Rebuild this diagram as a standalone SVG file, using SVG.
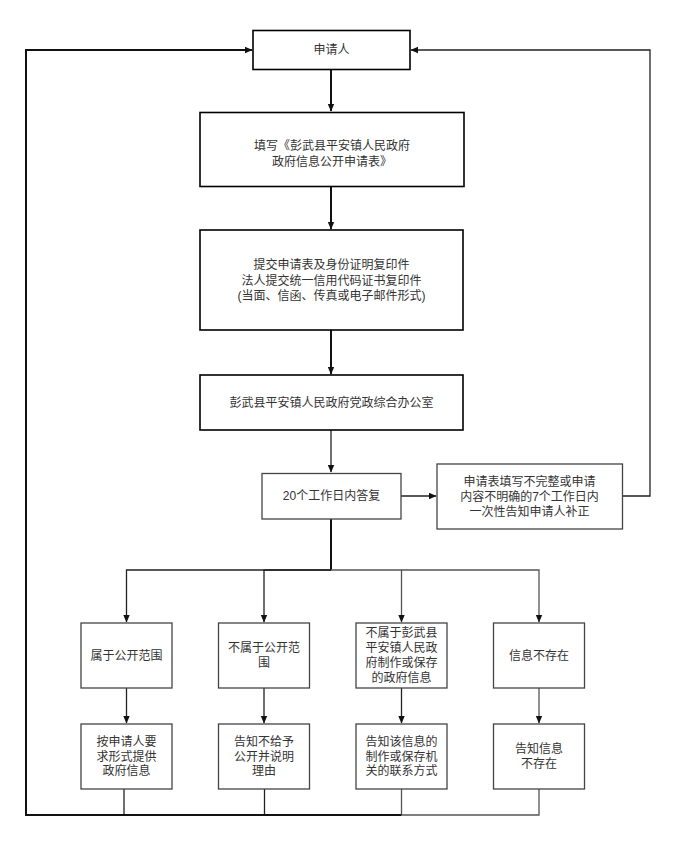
<svg xmlns="http://www.w3.org/2000/svg" width="678" height="852" viewBox="0 0 678 852">
<style>
.main{fill:#fff;stroke:#000;stroke-width:1.6}
.sub{fill:#fff;stroke:#444;stroke-width:1.3}
text{font-family:"Liberation Sans","Noto Sans CJK SC",sans-serif;font-size:12px;fill:#333;text-anchor:middle;dominant-baseline:central}
.c{fill:none;stroke:#222;stroke-width:1.3}
.ct{fill:none;stroke:#111;stroke-width:2}
.cg{fill:none;stroke:#555;stroke-width:1.3}
</style>
<defs>
<marker id="ah" markerWidth="8" markerHeight="8" refX="7" refY="4" orient="auto" markerUnits="userSpaceOnUse">
<path d="M0,0.8 L7.5,4 L0,7.2 Z" fill="#111"/>
</marker>
</defs>
<rect width="678" height="852" fill="#fff"/>
<g id="connectors">
<path class="ct" d="M331,70 V111" marker-end="url(#ah)"/>
<path class="ct" d="M331,187 V229" marker-end="url(#ah)"/>
<path class="ct" d="M331,330 V374" marker-end="url(#ah)"/>
<path class="c" d="M331,430 V472" marker-end="url(#ah)"/>
<path class="c" d="M401,496 H436" marker-end="url(#ah)"/>
<path class="c" d="M623,496 H650 V50 H411" marker-end="url(#ah)"/>
<path class="ct" d="M331,519 V570"/>
<path class="c" d="M331,570 H126.5 V622" marker-end="url(#ah)"/>
<path class="c" d="M331,570 H264 V622" marker-end="url(#ah)"/>
<path class="cg" d="M331,570 H401.5 V622" marker-end="url(#ah)"/>
<path class="cg" d="M401.5,570 H539 V622" marker-end="url(#ah)"/>
<path class="c" d="M126.5,688 V723" marker-end="url(#ah)"/>
<path class="c" d="M264,688 V723" marker-end="url(#ah)"/>
<path class="c" d="M401.5,688 V723" marker-end="url(#ah)"/>
<path class="cg" d="M539,688 V723" marker-end="url(#ah)"/>
<path class="c" d="M124,789 V815"/>
<path class="c" d="M264.5,789 V815"/>
<path class="cg" d="M401.5,789 V815"/>
<path class="cg" d="M539,789 V815 H401.5"/>
<path class="ct" d="M401.5,815 H26 V50 H252" marker-end="url(#ah)"/>
</g>
<g id="applicant">
<rect class="main" x="253" y="30.5" width="157" height="39"/>
<text x="331.5" y="50">申请人</text>
</g>
<g id="fill-form">
<rect class="main" x="200" y="112.5" width="264" height="74"/>
<text x="332" y="146">填写《彭武县平安镇人民政府</text>
<text x="332" y="162">政府信息公开申请表》</text>
</g>
<g id="submit">
<rect class="main" x="200" y="230" width="263" height="100"/>
<text x="331.5" y="265">提交申请表及身份证明复印件</text>
<text x="331.5" y="281">法人提交统一信用代码证书复印件</text>
<text x="331.5" y="296">(当面、信函、传真或电子邮件形式)</text>
</g>
<g id="office">
<rect class="main" x="200" y="375" width="263" height="55"/>
<text x="331.5" y="402.5">彭武县平安镇人民政府党政综合办公室</text>
</g>
<g id="reply">
<rect class="sub" x="262" y="473.5" width="139" height="45.5"/>
<text x="331.5" y="496">20个工作日内答复</text>
</g>
<g id="incomplete">
<rect class="sub" x="437" y="464" width="185.5" height="65"/>
<text x="529.5" y="481.5">申请表填写不完整或申请</text>
<text x="529.5" y="496.5">内容不明确的7个工作日内</text>
<text x="529.5" y="511.5">一次性告知申请人补正</text>
</g>
<g id="in-scope">
<rect class="sub" x="81" y="623" width="91" height="65"/>
<text x="126.5" y="656">属于公开范围</text>
</g>
<g id="not-in-scope">
<rect class="sub" x="218.5" y="623" width="91" height="65"/>
<text x="264" y="647.5">不属于公开范</text>
<text x="264" y="662.5">围</text>
</g>
<g id="not-this-gov">
<rect class="sub" x="356" y="623" width="91" height="65"/>
<text x="401.5" y="633">不属于彭武县</text>
<text x="401.5" y="648">平安镇人民政</text>
<text x="401.5" y="663">府制作或保存</text>
<text x="401.5" y="678">的政府信息</text>
</g>
<g id="not-exist">
<rect class="sub" x="493.5" y="623" width="91" height="65"/>
<text x="539" y="656">信息不存在</text>
</g>
<g id="provide">
<rect class="sub" x="81" y="724" width="91" height="65"/>
<text x="126.5" y="742">按申请人要</text>
<text x="126.5" y="756.5">求形式提供</text>
<text x="126.5" y="771">政府信息</text>
</g>
<g id="refuse">
<rect class="sub" x="218.5" y="724" width="91" height="65"/>
<text x="264" y="742">告知不给予</text>
<text x="264" y="756.5">公开并说明</text>
<text x="264" y="771">理由</text>
</g>
<g id="contact">
<rect class="sub" x="356" y="724" width="91" height="65"/>
<text x="401.5" y="742">告知该信息的</text>
<text x="401.5" y="756.5">制作或保存机</text>
<text x="401.5" y="771">关的联系方式</text>
</g>
<g id="notify-not-exist">
<rect class="sub" x="493.5" y="724" width="91" height="65"/>
<text x="539" y="749">告知信息</text>
<text x="539" y="763.5">不存在</text>
</g>
</svg>
